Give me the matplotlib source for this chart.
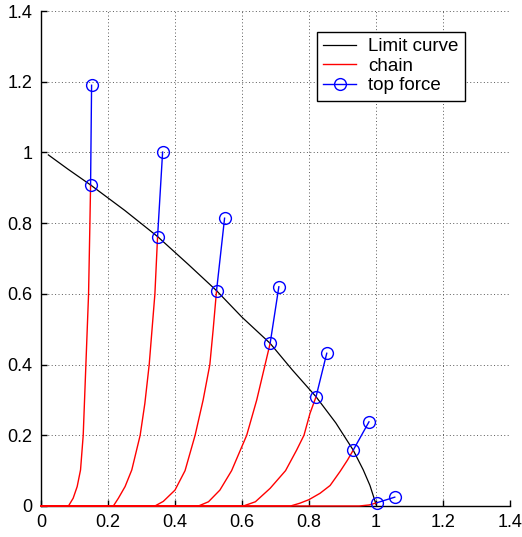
import matplotlib
matplotlib.use("Agg")
import matplotlib.pyplot as plt

plt.rcParams['font.family'] = ['Liberation Sans', 'DejaVu Sans']

# Limit curve
limit_x = [0.022, 0.08, 0.148, 0.25, 0.348, 0.44, 0.524, 0.60, 0.684, 0.75, 0.821, 0.88, 0.932, 0.962, 0.982, 1.0]
limit_y = [0.993, 0.953, 0.908, 0.836, 0.762, 0.683, 0.609, 0.534, 0.460, 0.385, 0.309, 0.235, 0.158, 0.102, 0.058, 0.005]

# Chains (red)
chain1_x = [0, 0.082, 0.096, 0.108, 0.118, 0.126, 0.134, 0.142, 0.146, 0.148]
chain1_y = [0, 0, 0.022, 0.055, 0.102, 0.20, 0.40, 0.60, 0.80, 0.908]
chain2_x = [0, 0.216, 0.231, 0.251, 0.271, 0.296, 0.310, 0.323, 0.340, 0.348]
chain2_y = [0, 0, 0.022, 0.055, 0.102, 0.20, 0.29, 0.40, 0.60, 0.762]
chain3_x = [0, 0.340, 0.365, 0.400, 0.430, 0.460, 0.484, 0.504, 0.514, 0.524]
chain3_y = [0, 0, 0.013, 0.045, 0.10, 0.20, 0.30, 0.40, 0.50, 0.609]
chain4_x = [0, 0.470, 0.500, 0.534, 0.569, 0.614, 0.644, 0.669, 0.684]
chain4_y = [0, 0, 0.012, 0.045, 0.10, 0.20, 0.30, 0.40, 0.460]
chain5_x = [0, 0.604, 0.64, 0.684, 0.73, 0.763, 0.785, 0.803, 0.821]
chain5_y = [0, 0, 0.012, 0.05, 0.10, 0.158, 0.20, 0.262, 0.309]
chain6_x = [0, 0.745, 0.773, 0.80, 0.833, 0.863, 0.893, 0.915, 0.932]
chain6_y = [0, 0, 0.008, 0.018, 0.036, 0.058, 0.098, 0.13, 0.158]
chain7_x = [0, 0.95, 0.98, 1.002]
chain7_y = [0, 0, 0.003, 0.009]

chains_x = [chain1_x, chain2_x, chain3_x, chain4_x, chain5_x, chain6_x, chain7_x]
chains_y = [chain1_y, chain2_y, chain3_y, chain4_y, chain5_y, chain6_y, chain7_y]

# Top force segments (blue): start = chain top, end = force tip
force_start_x = [0.148, 0.348, 0.524, 0.684, 0.821, 0.932, 1.002]
force_start_y = [0.908, 0.762, 0.609, 0.460, 0.309, 0.158, 0.009]
force_end_x = [0.151, 0.363, 0.548, 0.710, 0.853, 0.979, 1.056]
force_end_y = [1.19, 1.001, 0.814, 0.620, 0.432, 0.238, 0.025]

xticks = [0, 0.2, 0.4, 0.6, 0.8, 1, 1.2, 1.4]
xtick_labels = ['0', '0.2', '0.4', '0.6', '0.8', '1', '1.2', '1.4']
yticks = [0, 0.2, 0.4, 0.6, 0.8, 1, 1.2, 1.4]
ytick_labels = ['0', '0.2', '0.4', '0.6', '0.8', '1', '1.2', '1.4']

fig = plt.figure(figsize=(5.22, 5.37), dpi=100)
ax = fig.add_axes([41/522, 31/537, 469/522, 495/537])

h_limit, = ax.plot(limit_x, limit_y, color='black', lw=0.9, zorder=3)
h_chain = None
for cx, cy in zip(chains_x, chains_y):
    h, = ax.plot(cx, cy, color='red', lw=1.0, zorder=4, clip_on=False)
    if h_chain is None:
        h_chain = h
h_force = None
for sx, sy, ex, ey in zip(force_start_x, force_start_y, force_end_x, force_end_y):
    h, = ax.plot([sx, ex], [sy, ey], color='blue', lw=1.0, marker='o',
                 markersize=8.5, markerfacecolor='none', markeredgecolor='blue',
                 markeredgewidth=1.0, zorder=5, clip_on=False)
    if h_force is None:
        h_force = h

ax.set_xlim(0, 1.4)
ax.set_ylim(0, 1.4)
ax.set_xticks(xticks)
ax.set_xticklabels(xtick_labels)
ax.set_yticks(yticks)
ax.set_yticklabels(ytick_labels)
ax.tick_params(direction='in', length=4, width=1, labelsize=13, pad=6)
ax.grid(True, color='0.35', linestyle=(0, (1, 2.5)), linewidth=0.7)
ax.spines['top'].set_visible(False)
ax.spines['right'].set_visible(False)
ax.spines['left'].set_linewidth(1.0)
ax.spines['bottom'].set_linewidth(1.0)

leg = ax.legend([h_limit, h_chain, h_force], ['Limit curve', 'chain', 'top force'],
                loc='upper left', bbox_to_anchor=(0.588, 0.958), fontsize=13.5,
                fancybox=False, framealpha=1, edgecolor='black',
                handlelength=1.75, handletextpad=0.65, labelspacing=0.12,
                borderpad=0.35, borderaxespad=0)
leg.get_frame().set_linewidth(1.0)

fig.savefig('out.png', dpi=100)
